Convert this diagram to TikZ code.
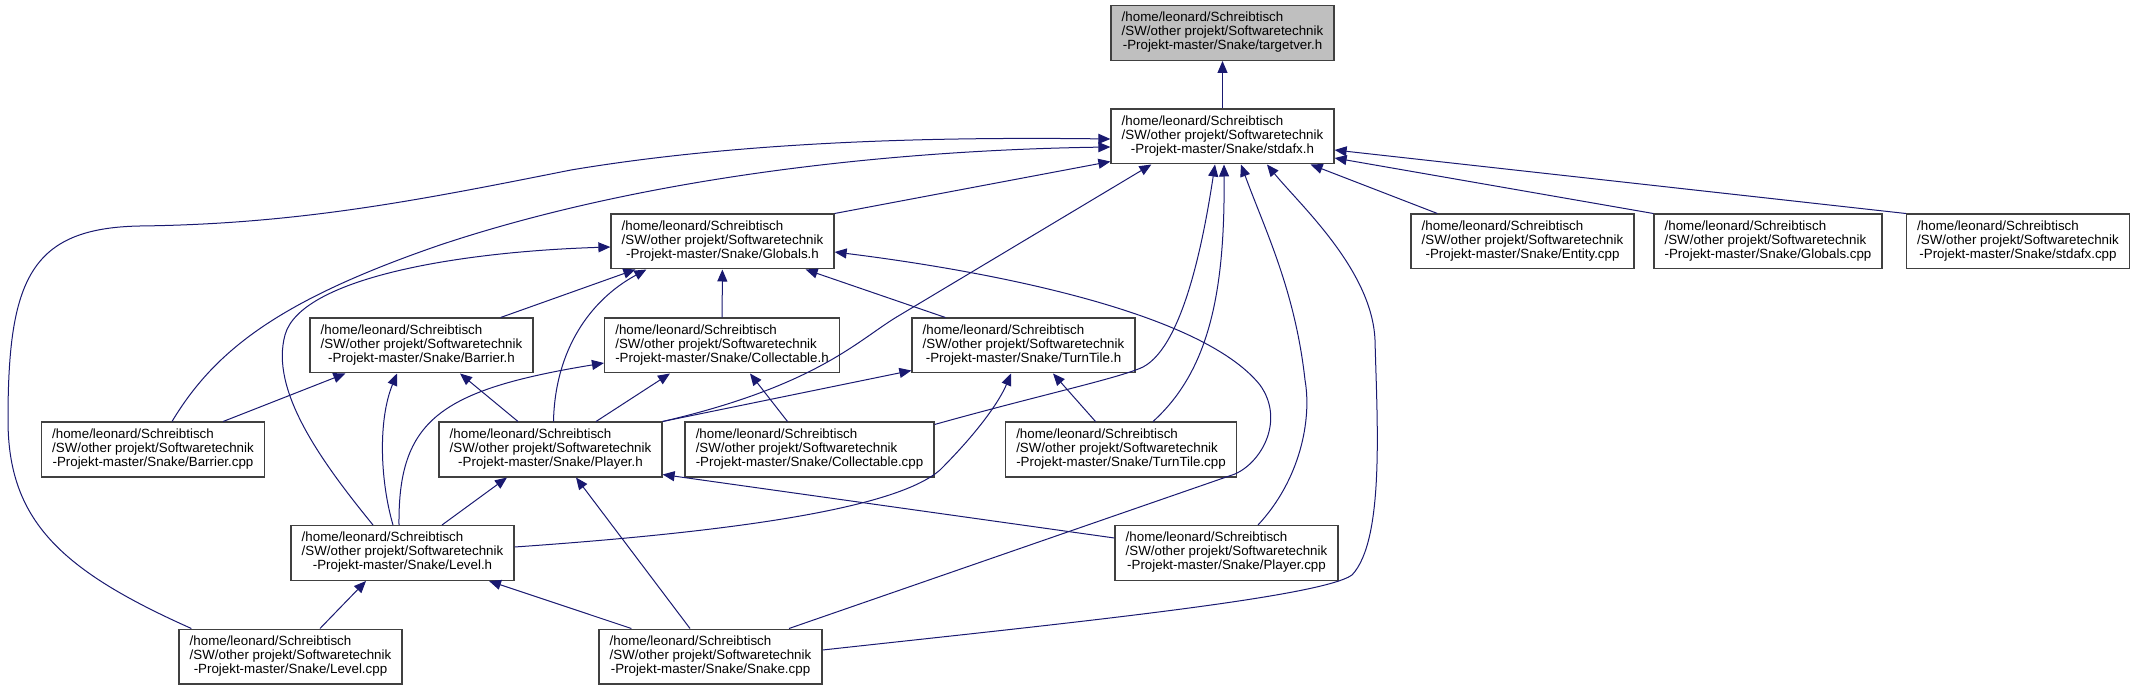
\documentclass[tikz,border=0pt]{standalone}
\usepackage{fontspec}
\setmainfont{Liberation Sans}
\usepackage{tikz}
\usetikzlibrary{arrows.meta, calc}
\definecolor{cEdge}{RGB}{25,25,112}
\definecolor{cBorder}{RGB}{64,64,64}
\definecolor{cTarget}{RGB}{191,191,191}
\newcommand{\snakefile}[1]{\begin{tabular}{@{}l@{}}/home/leonard/Schreibtisch\\ /SW/other projekt/Softwaretechnik\\ \multicolumn{1}{@{}c@{}}{-Projekt-master/Snake/#1}\end{tabular}}
\tikzset{
	filebox/.style={rectangle, draw=cBorder, line width=1pt, fill=white, inner xsep=8pt, inner ysep=0pt, minimum height=41pt, font=\fontsize{10}{10.5}\selectfont},
	dep/.style={-{Triangle[length=9pt, width=7.5pt]}, color=cEdge, line width=0.75pt},
}

\begin{document}
\begin{tikzpicture}[x=0.75pt, y=-0.75pt]
	\useasboundingbox (0,0) rectangle (2135,691);
	\node[filebox, fill=cTarget] (tv) at (1222.5,33) {\snakefile{targetver.h}};
	\node[filebox] (std) at (1222.5,136.5) {\snakefile{stdafx.h}};
	\node[filebox] (glh) at (722.5,241.5) {\snakefile{Globals.h}};
	\node[filebox] (ent) at (1522.5,241.5) {\snakefile{Entity.cpp}};
	\node[filebox] (glc) at (1768,241.5) {\snakefile{Globals.cpp}};
	\node[filebox] (stc) at (2018,241.5) {\snakefile{stdafx.cpp}};
	\node[filebox] (bah) at (421.5,345.5) {\snakefile{Barrier.h}};
	\node[filebox] (coh) at (722,345.5) {\snakefile{Collectable.h}};
	\node[filebox] (tth) at (1023.5,345.5) {\snakefile{TurnTile.h}};
	\node[filebox] (bac) at (153,449.5) {\snakefile{Barrier.cpp}};
	\node[filebox] (plh) at (550.5,449.5) {\snakefile{Player.h}};
	\node[filebox] (coc) at (809.5,449.5) {\snakefile{Collectable.cpp}};
	\node[filebox] (ttc) at (1121,449.5) {\snakefile{TurnTile.cpp}};
	\node[filebox] (lvh) at (402.5,553) {\snakefile{Level.h}};
	\node[filebox] (plc) at (1226.5,553) {\snakefile{Player.cpp}};
	\node[filebox] (lvc) at (290.5,656.5) {\snakefile{Level.cpp}};
	\node[filebox] (snc) at (710.5,656.5) {\snakefile{Snake.cpp}};
	% includes of stdafx.h
	\draw[dep] (std) -- (tv);
	\draw[dep] (glh.north east) -- ($(std.south west)+(0,-3)$);
	\draw[dep] ($(ent.north west)+(27,0)$) -- ($(std.south east)+(-24,0)$);
	\draw[dep] (glc.north west) -- ($(std.east)+(0,21.5)$);
	\draw[dep] (stc.north west) -- ($(std.east)+(0,13.5)$);
	\draw[dep] ($(bac.north)+(19,0)$) .. controls (215,350) and (280,300) .. (440,245) .. controls (650,175) and (900,150) .. ($(std.west)+(0,10.5)$);
	\draw[dep] ($(lvc.north west)+(13,0)$) .. controls (60,570) and (8,520) .. (8,420) .. controls (8,280) and (30,228) .. (140,226) .. controls (300,224) and (420,200) .. (571,170) .. controls (750,140) and (950,137) .. ($(std.west)+(0,2.5)$);
	\draw[dep] (plh.north east) .. controls (820,385) and (860,338) .. (900,315) -- ($(std.south west)+(41,0)$);
	\draw[dep] ($(coc.north east)+(0,3)$) .. controls (1040,395) and (1120,378) .. (1143,367) .. controls (1185,345) and (1205,230) .. ($(std.south)+(-7.5,0)$);
	\draw[dep] ($(ttc.north)+(32,0)$) .. controls (1210,370) and (1225,290) .. ($(std.south)+(1.5,0)$);
	\draw[dep] ($(plc.north)+(31.5,0)$) .. controls (1300,480) and (1312,420) .. (1305,380) .. controls (1295,290) and (1265,230) .. ($(std.south)+(18.5,0)$);
	\draw[dep] ($(snc.east)+(0,-6.5)$) .. controls (1050,625) and (1320,598) .. (1352,575) .. controls (1385,540) and (1377,420) .. (1375,340) .. controls (1372,270) and (1300,205) .. ($(std.south)+(44.5,0)$);
	% includes of Globals.h
	\draw[dep] ($(bah.north east)+(-33,0)$) -- ($(glh.south west)+(25,0)$);
	\draw[dep] ($(plh.north)+(3,0)$) .. controls (555,350) and (590,300) .. ($(glh.south west)+(36,0)$);
	\draw[dep] (coh) -- (glh);
	\draw[dep] ($(tth.north west)+(34,0)$) -- ($(glh.south east)+(-29,0)$);
	\draw[dep] ($(snc.north)+(78.5,0)$) -- (1235,474) .. controls (1262,462) and (1285,420) .. (1260,385) .. controls (1200,310) and (980,270) .. ($(glh.east)+(0,10.5)$);
	\draw[dep] ($(lvh.north)+(-29.5,0)$) .. controls (320,460) and (270,390) .. (285,335) .. controls (300,280) and (450,252) .. ($(glh.west)+(0,5.5)$);
	% includes of Barrier.h, Collectable.h, TurnTile.h
	\draw[dep] ($(bac.north east)+(-42,0)$) -- ($(bah.south west)+(36,0)$);
	\draw[dep] ($(plh.north)+(-32.5,0)$) -- ($(bah.south)+(38.5,0)$);
	\draw[dep] ($(lvh.north)+(-9.5,0)$) .. controls (380,480) and (378,420) .. ($(bah.south)+(-24.5,0)$);
	\draw[dep] ($(plh.north)+(45.5,0)$) -- ($(coh.south)+(-52,0)$);
	\draw[dep] ($(coc.north)+(-22,0)$) -- ($(coh.south)+(28,0)$);
	\draw[dep] ($(lvh.north)+(-3.5,0)$) .. controls (398,420) and (440,390) .. ($(coh.west)+(0,17.5)$);
	\draw[dep] (plh.north east) -- ($(tth.south west)+(0,-3)$);
	\draw[dep] ($(ttc.north)+(-25.5,0)$) -- ($(tth.south)+(29.5,0)$);
	\draw[dep] ($(lvh.east)+(0,-6)$) .. controls (760,530) and (900,505) .. (940,470) .. controls (980,430) and (1000,400) .. ($(tth.south)+(-12.5,0)$);
	% includes of Player.h and Level.h
	\draw[dep] ($(lvh.north)+(39.5,0)$) -- ($(plh.south)+(-43.5,0)$);
	\draw[dep] ($(snc.north)+(-20.5,0)$) -- ($(plh.south)+(25.5,0)$);
	\draw[dep] ($(plc.west)+(0,-15)$) -- ($(plh.south east)+(0,-3)$);
	\draw[dep] ($(lvc.north)+(29.5,0)$) -- ($(lvh.south)+(-36.5,0)$);
	\draw[dep] ($(snc.north west)+(33,0)$) -- ($(lvh.south)+(86.5,0)$);
\end{tikzpicture}
\end{document}
